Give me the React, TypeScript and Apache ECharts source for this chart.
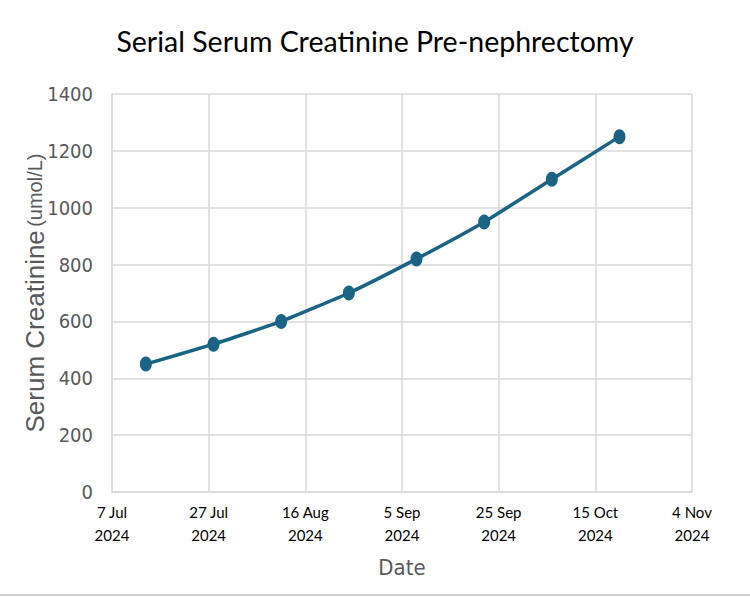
import React, { useEffect, useRef } from "react";
import * as echarts from "echarts";

// Sample dates (ISO) and serum creatinine values (umol/L)
const sampleDates = [
  "2024-07-14",
  "2024-07-28",
  "2024-08-11",
  "2024-08-25",
  "2024-09-08",
  "2024-09-22",
  "2024-10-06",
  "2024-10-20",
];
const creatinine = [450, 520, 600, 700, 820, 950, 1100, 1250];

// Axis origin date and tick labels every 20 days
const axisStart = "2024-07-07";
const xTickLabels = [
  "7 Jul\n2024",
  "27 Jul\n2024",
  "16 Aug\n2024",
  "5 Sep\n2024",
  "25 Sep\n2024",
  "15 Oct\n2024",
  "4 Nov\n2024",
];

const DAY = 86400000;
const dayOffset = (iso: string) =>
  Math.round((Date.parse(iso + "T00:00:00Z") - Date.parse(axisStart + "T00:00:00Z")) / DAY);

export default function App() {
  const ref = useRef<HTMLDivElement>(null);

  useEffect(() => {
    if (!ref.current) return;
    const chart = echarts.init(ref.current, null, { renderer: "svg" });
    const points = sampleDates.map((d, i) => [dayOffset(d), creatinine[i]]);
    const gridColor = "#d9d9d9";
    const condensed = "'DejaVu Sans Condensed', 'Liberation Sans', sans-serif";

    chart.setOption({
      animation: false,
      backgroundColor: "#ffffff",
      title: {
        text: "Serial Serum Creatinine Pre-nephrectomy",
        left: "center",
        top: 21,
        textStyle: {
          fontFamily: "Lato, 'Open Sans', sans-serif",
          fontWeight: "normal",
          fontSize: 28.5,
          color: "#000000",
        },
      },
      grid: { left: 112, right: 58, top: 94, bottom: 105 },
      xAxis: {
        type: "value",
        min: 0,
        max: 120,
        interval: 20,
        name: "Date",
        nameLocation: "middle",
        nameGap: 64,
        nameMoveOverlap: false,
        nameTextStyle: { fontFamily: condensed, fontSize: 22, color: "#595959" },
        axisLine: { show: true, lineStyle: { color: gridColor, width: 1.5 } },
        axisTick: { show: false },
        splitLine: { show: true, lineStyle: { color: gridColor, width: 1.5 } },
        axisLabel: {
          margin: 8,
          fontFamily: "Lato, 'Open Sans', sans-serif",
          fontSize: 15,
          lineHeight: 23,
          color: "#000000",
          formatter: (v: number) => xTickLabels[Math.round(v / 20)] ?? "",
        },
      },
      yAxis: {
        type: "value",
        min: 0,
        max: 1400,
        interval: 200,
        name: "{a|Serum Creatinine} {b|(umol/L)}",
        nameLocation: "middle",
        nameGap: 64,
        nameMoveOverlap: false,
        nameRotate: 90,
        nameTextStyle: {
          color: "#595959",
          rich: {
            a: { fontFamily: "'Liberation Sans', Arial, sans-serif", fontSize: 26, color: "#595959" },
            b: { fontFamily: "'Liberation Sans', Arial, sans-serif", fontSize: 20, color: "#595959" },
          },
        },
        axisLine: { show: true, lineStyle: { color: gridColor, width: 1.5 } },
        axisTick: { show: false },
        splitLine: { show: true, lineStyle: { color: gridColor, width: 1.5 } },
        axisLabel: {
          margin: 19,
          fontFamily: condensed,
          fontSize: 20,
          color: "#595959",
          formatter: (v: number) => String(v),
        },
      },
      series: [
        {
          type: "line",
          data: points,
          smooth: 0.15,
          symbol: "circle",
          symbolSize: [12, 15],
          itemStyle: { color: "#1b6385" },
          lineStyle: { color: "#1b6385", width: 3.5 },
        },
      ],
      graphic: [
        {
          type: "line",
          shape: { x1: 0, y1: 595, x2: 750, y2: 595 },
          style: { stroke: "#d0d0d0", lineWidth: 2 },
        },
      ],
    });

    return () => chart.dispose();
  }, []);

  return (
    <div
      ref={ref}
      style={{ position: "fixed", left: 0, top: 0, width: 750, height: 597 }}
    />
  );
}
